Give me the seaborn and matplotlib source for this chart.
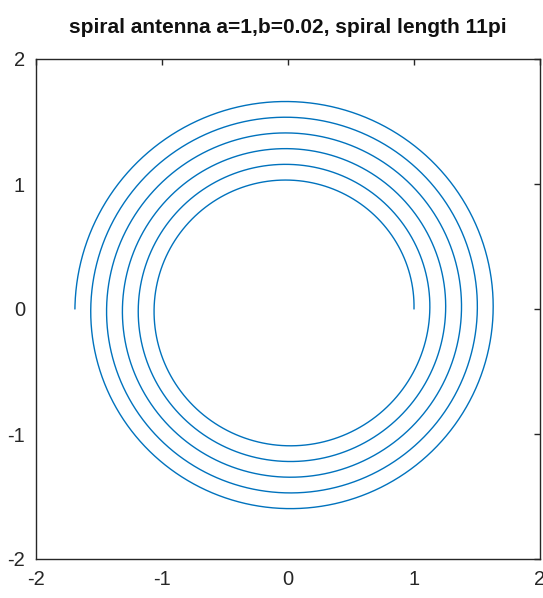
import numpy as np
import pandas as pd
import matplotlib
matplotlib.use("Agg")
import matplotlib.pyplot as plt
import seaborn as sns

# Spiral parameters (from the title): r = a + b*theta, theta in [0, 11*pi]
a = 1.0
b = 0.02
spiral_length = 11 * np.pi
n_points = 2000

xticks = [-2, -1, 0, 1, 2]
yticks = [-2, -1, 0, 1, 2]
title = "spiral antenna a=1,b=0.02, spiral length 11pi"

theta = np.linspace(0, spiral_length, n_points)
r = a + b * theta
df = pd.DataFrame({"x": r * np.cos(theta), "y": r * np.sin(theta), "t": theta})

sns.set_style("white")
plt.rcParams["font.family"] = ["Liberation Sans Narrow", "Liberation Sans", "DejaVu Sans"]
plt.rcParams["axes.unicode_minus"] = False

fig = plt.figure(figsize=(5.43, 5.98), dpi=100)
ax = fig.add_axes([36 / 543, 1 - 559 / 598, (540 - 36) / 543, (559 - 59) / 598])

sns.lineplot(data=df, x="x", y="y", sort=False, estimator=None, ax=ax,
             color="#0072BD", linewidth=1.0)

ax.set_xlim(-2, 2)
ax.set_ylim(-2, 2)
ax.set_xticks(xticks)
ax.set_yticks(yticks)
ax.set_xticklabels([str(v) for v in xticks])
ax.set_yticklabels([str(v) for v in yticks])
ax.set_xlabel("")
ax.set_ylabel("")
ax.tick_params(direction="in", length=4, width=1, colors="#262626",
               labelsize=14.5, top=True, right=True, labelcolor="#262626", pad=8)
for s in ax.spines.values():
    s.set_color("#262626")
    s.set_linewidth(1)
    s.set_visible(True)
ax.set_title(title, fontsize=15, fontweight="bold", pad=19, color="#111111")

fig.savefig("out.png", dpi=100)
